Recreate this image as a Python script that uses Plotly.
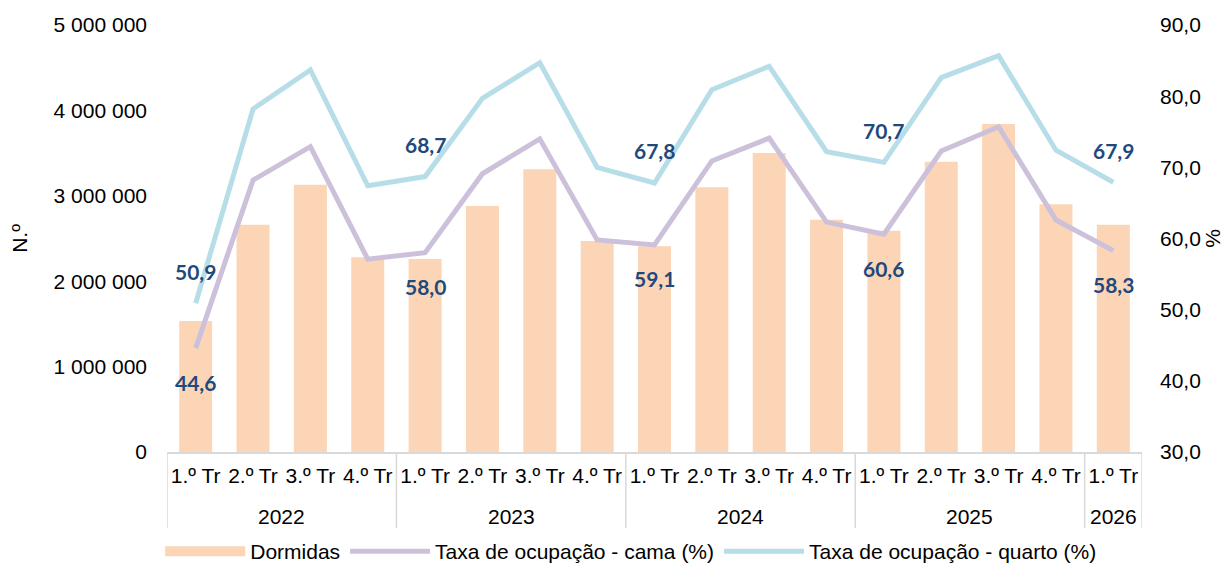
import plotly.graph_objects as go

years = ["2022"] * 4 + ["2023"] * 4 + ["2024"] * 4 + ["2025"] * 4 + ["2026"]
quarters = ["1.º Tr", "2.º Tr", "3.º Tr", "4.º Tr"] * 4 + ["1.º Tr"]

dormidas = [1534000, 2660000, 3130000, 2280000,
            2260000, 2880000, 3310000, 2470000,
            2410000, 3100000, 3500000, 2720000,
            2590000, 3400000, 3840000, 2900000,
            2660000]

taxa_cama = [44.6, 68.2, 72.9, 57.1,
             58.0, 69.1, 74.0, 59.8,
             59.1, 70.9, 74.1, 62.3,
             60.6, 72.3, 75.7, 62.6,
             58.3]

taxa_quarto = [50.9, 78.2, 83.7, 67.4,
               68.7, 79.7, 84.7, 70.0,
               67.8, 80.9, 84.2, 72.2,
               70.7, 82.6, 85.7, 72.4,
               67.9]

# unique category keys (year + quarter); tick labels show only the quarter
cats = [f"{y} {q}" for y, q in zip(years, quarters)]

FONT = "Liberation Sans, Arial, sans-serif"
LABEL_FONT = dict(family="Lato, Open Sans, sans-serif", size=21, color="#1F497D", weight="bold")
GRID = "#D9D9D9"
BAR_COLOR = "#FBD5B5"

fig = go.Figure()
fig.add_trace(go.Bar(
    x=cats, y=dormidas, name="Dormidas",
    marker=dict(color=BAR_COLOR, line=dict(width=0)),
    yaxis="y", showlegend=False, legendgroup="dormidas",
))
# legend-only entry giving the wide patch used in the reference legend
fig.add_trace(go.Scatter(
    x=[None], y=[None], name="Dormidas", mode="lines",
    line=dict(color=BAR_COLOR, width=14), legendgroup="dormidas",
    yaxis="y",
))
fig.add_trace(go.Scatter(
    x=cats, y=taxa_cama, name="Taxa de ocupação - cama (%)",
    mode="lines", line=dict(color="#CCC0DA", width=5),
    yaxis="y2",
))
fig.add_trace(go.Scatter(
    x=cats, y=taxa_quarto, name="Taxa de ocupação - quarto (%)",
    mode="lines", line=dict(color="#B7DEE8", width=5),
    yaxis="y2",
))

annotations = []
for i, q in enumerate(quarters):
    if q == "1.º Tr":
        annotations.append(dict(
            x=i, y=taxa_quarto[i], xref="x", yref="y2",
            text=f"{taxa_quarto[i]:.1f}".replace(".", ","),
            showarrow=False, yshift=32, font=LABEL_FONT,
        ))
        annotations.append(dict(
            x=i, y=taxa_cama[i], xref="x", yref="y2",
            text=f"{taxa_cama[i]:.1f}".replace(".", ","),
            showarrow=False, yshift=-34, font=LABEL_FONT,
        ))

# year group labels and dividers
groups = []
for i, y in enumerate(years):
    if not groups or groups[-1][0] != y:
        groups.append([y, i, i])
    else:
        groups[-1][2] = i

shapes = []
for y, start, end in groups:
    annotations.append(dict(
        x=(start + end) / 2, y=-0.151, xref="x", yref="paper",
        text=y, showarrow=False, yanchor="middle",
        font=dict(family=FONT, size=21, color="#000000"),
    ))
    shapes.append(dict(type="line", xref="x", yref="paper",
                       x0=start - 0.5, x1=start - 0.5, y0=0, y1=-0.178,
                       line=dict(color=GRID, width=1.5)))
shapes.append(dict(type="line", xref="x", yref="paper",
                   x0=groups[-1][2] + 0.5, x1=groups[-1][2] + 0.5, y0=0, y1=-0.178,
                   line=dict(color=GRID, width=1.5)))

# page body has an 8px margin, so the figure is drawn 8px smaller and offset
fig.update_layout(
    width=1221, height=557,
    margin=dict(l=159, r=87, t=17, b=113),
    paper_bgcolor="white", plot_bgcolor="white",
    separators=", ",
    font=dict(family=FONT, size=21, color="#000000"),
    bargap=0.425,
    showlegend=True,
    legend=dict(orientation="h", xref="container", yref="container",
                x=0.51, xanchor="center", y=0.024, yanchor="middle",
                font=dict(size=21), itemwidth=80, traceorder="normal"),
    xaxis=dict(
        type="category", automargin=False,
        tickmode="array", tickvals=cats, ticktext=quarters,
        showline=True, linecolor=GRID, linewidth=1.5,
        tickfont=dict(size=21), ticks="", ticklabelstandoff=4,
        showgrid=False, range=[-0.5, len(cats) - 0.5],
    ),
    yaxis=dict(
        range=[0, 5000000], dtick=1000000, tickformat=",.0f",
        showgrid=False, zeroline=False, showline=False, automargin=False,
        title=dict(text="N.º", font=dict(size=21), standoff=22),
        tickfont=dict(size=21), ticklabelstandoff=19,
    ),
    yaxis2=dict(
        overlaying="y", side="right",
        range=[30, 90], dtick=10, tickformat=".1f",
        showgrid=False, zeroline=False, showline=False, automargin=False,
        title=dict(text="%", font=dict(size=21), standoff=4),
        tickfont=dict(size=21), ticklabelstandoff=17,
    ),
    annotations=annotations,
    shapes=shapes,
)

fig.write_html("out.html")
